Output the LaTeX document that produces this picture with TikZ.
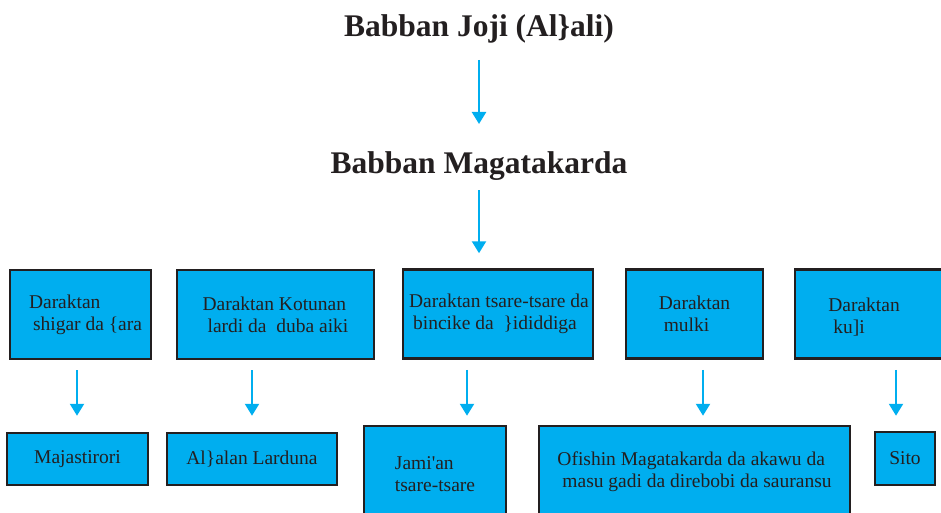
\documentclass[tikz,border=0pt]{standalone}
\usepackage{fontspec}
\setmainfont{Liberation Serif}
\usetikzlibrary{arrows.meta}
\definecolor{boxcyan}{RGB}{0,174,239}
\definecolor{arrcyan}{RGB}{0,174,239}
\definecolor{ink}{RGB}{35,31,32}
\tikzset{
  title/.style={font=\fontsize{31.5}{36}\selectfont\bfseries, text=ink, inner sep=0pt},
  boxnode/.style={draw=ink, line width=2.5pt, fill=boxcyan, inner sep=0pt,
    font=\fontsize{19.5}{22}\selectfont, text=ink, align=left},
  txt/.style={font=\fontsize{19.5}{22}\selectfont, text=ink, align=left, inner sep=0pt},
  arr/.style={draw=arrcyan, line width=2.3pt, -{Triangle[length=12pt,width=14pt]}}
}
\begin{document}
\begin{tikzpicture}[x=1pt,y=-1pt]
\useasboundingbox (0,0) rectangle (941,513);
\clip (0,0) rectangle (941,513);
% titles
\node[title] (t1) at (479,29) {Babban Joji (Al\}ali)};
\node[title] (t2) at (479,166) {Babban Magatakarda};
% top row
\node[boxnode, minimum width=141, minimum height=89] (d1) at (80.5,314.5) {\hspace*{10pt}Daraktan\\\hspace*{14pt}shigar da \{ara};
\node[boxnode, minimum width=197, minimum height=89] (d2) at (275.5,314.5) {Daraktan Kotunan\\\hspace*{5pt}lardi da~ duba aiki};
\node[boxnode, minimum width=190, minimum height=89] (d3) at (498,314) {\hspace*{2pt}Daraktan tsare-tsare da\\\hspace*{6pt}bincike da~ \}ididdiga};
\node[boxnode, minimum width=137, minimum height=89] (d4) at (694.5,314) {Daraktan\\\hspace*{5pt}mulki};
\node[boxnode, minimum width=160, minimum height=89] (d5) at (875,314) {};
\node[txt] (d5t) at (864,317) {Daraktan\\\hspace*{5pt}ku]i};
% bottom row
\node[boxnode, minimum width=141, minimum height=52, align=center] (b1) at (77.5,459) {Majastirori};
\node[boxnode, minimum width=170, minimum height=52, align=center] (b2) at (252,459) {Al\}alan Larduna};
\node[boxnode, minimum width=142, minimum height=96] (b3) at (435,474) {Jami\textquotesingle an\\tsare-tsare};
\node[boxnode, minimum width=311, minimum height=92] (b4) at (694.5,472) {Ofishin Magatakarda da akawu da\\\hspace*{5pt}masu gadi da direbobi da sauransu};
\node[boxnode, minimum width=60, minimum height=53, align=center] (b5) at (905,458.5) {Sito};
% arrows
\draw[arr] ([yshift=-31pt]t1.center) -- ([yshift=42pt]t2.center);
\draw[arr] ([yshift=-24pt]t2.center) -- ([yshift=15pt]t2.center |- d3.north);
\draw[arr] ([xshift=-3.5pt,yshift=-10pt]d1.south) -- ([xshift=-0.5pt,yshift=16pt]b1.north);
\draw[arr] ([xshift=0pt,yshift=-10pt]b2.north |- d2.south) -- ([yshift=16pt]b2.north);
\draw[arr] ([xshift=-31pt,yshift=-10pt]d3.south) -- ([xshift=-31pt,yshift=9pt]d3.south |- b3.north);
\draw[arr] ([xshift=8.5pt,yshift=-10pt]d4.south) -- ([xshift=8.5pt,yshift=9pt]d4.south |- b4.north);
\draw[arr] ([xshift=-9pt,yshift=-10pt]b5.north |- d5.south) -- ([xshift=-9pt,yshift=15pt]b5.north);
\end{tikzpicture}
\end{document}
